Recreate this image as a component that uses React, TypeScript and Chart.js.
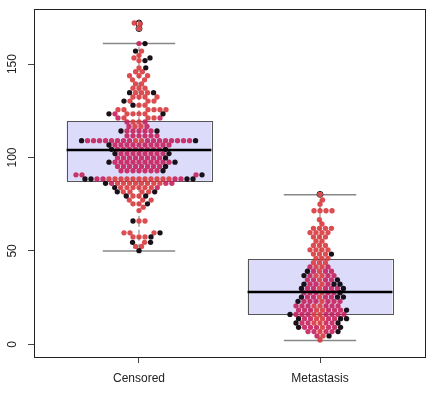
import { useEffect, useRef } from "react";
import { Chart, registerables } from "chart.js";
Chart.register(...registerables);

const categories = ["Censored", "Metastasis"];
const yTicks = [0, 50, 100, 150];
const boxQ1 = [87.5, 16];
const boxMedian = [104, 28];
const boxQ3 = [119.4, 45.5];
const whiskerLow = [50, 2];
const whiskerHigh = [161, 80];

// Censored group, split by point colour class
const censoredRed = [
  172, 171.5, 169,
  157, 154.7, 153.3, 151.9, 148,
  145.9, 145.9, 143.8, 143.8, 143.8, 141.6, 141.6, 139.4, 139.4, 137.1, 137.1, 137.1,
  134.7, 134.7, 134.7, 132.4, 132.4, 132.4, 132.4, 130.2, 130.2, 130.2, 128, 128,
  125.6, 125.6, 125.6, 125.6, 125.6, 125.6,
  123.4, 123.4, 123.4, 123.4, 121.2, 121.2, 121.2, 119, 119, 116.6, 116.6,
  109, 109,
  88.5, 88.5, 88.5, 88.5, 88.5, 88.5, 88.5, 88.5, 88.5, 88.5, 88.5,
  86.2, 86.2, 86.2, 86.2, 86.2, 86.2, 86.2, 86.2,
  83.9, 83.9, 83.9, 83.9, 83.9, 83.9,
  81.6, 81.6, 81.6, 81.6, 79.4, 79.4, 77.2, 77.2, 77.2, 75.2, 75.2, 73.4, 71.6,
  66, 66, 59.7, 59.7, 59.7, 57.5, 57.5, 57.5, 54.6, 52.4, 52.4,
];
const censoredPink = [
  161, 123.4, 121.2, 121.2, 119, 119, 116.6, 116.6,
  114.2, 114.2, 114.2, 114.2, 114.2, 111.6, 111.6, 111.6, 111.6, 111.6, 111.6,
  109, 109, 109, 109, 109, 109, 109, 109, 109, 109, 109, 109, 109, 109, 109, 109,
  106.7, 106.7, 106.7, 106.7, 106.7, 106.7, 106.7, 106.7, 106.7, 106.7,
  104.4, 104.4, 104.4, 104.4, 104.4, 104.4, 104.4, 104.4,
  102.1, 102.1, 102.1, 102.1, 102.1, 102.1, 102.1, 102.1,
  99.8, 99.8, 99.8, 99.8, 99.8, 99.8, 99.8, 99.8,
  97.5, 97.5, 97.5, 97.5, 97.5, 97.5, 97.5, 97.5, 97.5, 97.5,
  95.2, 95.2, 95.2, 95.2, 95.2, 95.2, 95.2, 95.2,
  92.9, 92.9, 92.9, 92.9, 92.9, 92.9, 92.9,
  90.7, 90.7, 90.7,
  88.5, 88.5, 88.5, 88.5, 86.2, 86.2, 86.2, 83.9,
];
const censoredBlack = [
  161, 157, 153.3, 151.9, 148, 134.7, 134.7, 130.2, 128, 123.4, 123.4,
  114.2, 114.2, 109, 109, 106.7, 104.4, 104.4, 102.1, 102.1, 99.8, 97.5, 97.5, 95.2, 92.9, 90.7,
  88.5, 88.5, 88.5, 88.5, 86.2, 83.9, 81.6, 81.6, 79.4, 79.4, 75.2,
  66, 59.7, 57.5, 54.6, 54.6, 50.1,
];

// Metastasis group, split by point colour class
const metastasisRed = [
  80.3, 77.3, 75, 71.5, 71.5, 71.5, 71.5, 66.7, 64.4,
  62.1, 62.1, 62.1, 62.1, 59.8, 59.8, 59.8, 59.8, 57.5, 57.5, 57.5, 55.2, 55.2,
  52.9, 52.9, 52.9, 50.6, 50.6, 50.6, 50.6, 48.3, 48.3, 48.3, 46, 46, 46, 43.7, 43.7, 43.7,
  41.4, 41.4, 39.1, 36.8, 36.8, 34.5, 32.2, 29.9, 27.6, 25.3, 23,
  20.6, 20.6, 18.3, 18.3, 16, 16, 13.7, 13.7, 11.4, 11.4, 9.1, 6.8, 4.5, 2.3,
];
const metastasisPink = [
  41.4, 41.4, 39.1, 39.1, 39.1, 36.8, 36.8, 36.8, 34.5, 34.5, 34.5, 34.5,
  32.2, 32.2, 32.2, 29.9, 29.9, 29.9, 29.9, 29.9, 27.6, 27.6, 27.6, 27.6, 27.6,
  25.3, 25.3, 25.3, 25.3, 23, 23, 23, 23, 23, 23, 20.6, 20.6, 20.6, 20.6, 20.6, 20.6,
  18.3, 18.3, 18.3, 18.3, 18.3, 18.3, 16, 16, 16, 16, 16, 16, 16,
  13.7, 13.7, 13.7, 13.7, 11.4, 11.4, 11.4, 11.4, 9.1, 9.1, 9.1, 9.1, 9.1,
  6.8, 6.8, 6.8, 6.8, 4.5,
];
const metastasisBlack = [
  48.3, 39.1, 36.8, 34.5, 32.2, 32.2, 32.2, 29.9, 29.9, 27.6, 25.3, 25.3, 25.3, 23,
  18.3, 16, 13.7, 13.7, 13.7, 11.4, 11.4, 9.1, 9.1, 6.8, 4.5,
];

const groups = [
  { red: censoredRed, pink: censoredPink, black: censoredBlack },
  { red: metastasisRed, pink: metastasisPink, black: metastasisBlack },
];

const X_MIN = 0.42, X_MAX = 2.58, Y_MIN = -6.8, Y_MAX = 179.5;
const PLOT_W = 391, PLOT_H = 348;
const GAP_X = 6.0; // horizontal spacing of neighbouring dots (px)
const GAP_Y = 4.75; // vertical reach of the collision ellipse (px)
const DOT_R = 2.65;

function swarm(values: number[], pxPerY: number): number[] {
  const idx = values.map((_, i) => i).sort((a, b) => values[a] - values[b] || a - b);
  const placed: { x: number; y: number }[] = [];
  const out = new Array(values.length).fill(0);
  const hits = (p: { x: number; y: number }, cx: number, cy: number) =>
    ((p.x - cx) / GAP_X) ** 2 + ((p.y - cy) / GAP_Y) ** 2 < 1 - 1e-6;
  for (const i of idx) {
    const y = values[i] * pxPerY;
    const near = placed.filter((p) => Math.abs(p.y - y) < GAP_Y);
    const cands = [0];
    for (const p of near) {
      const dx = GAP_X * Math.sqrt(1 - ((p.y - y) / GAP_Y) ** 2);
      cands.push(p.x + dx, p.x - dx);
    }
    const sorted = cands
      .map((c, k) => ({ c, k }))
      .sort((a, b) => Math.abs(a.c) - Math.abs(b.c) || a.k - b.k);
    let best = 0;
    for (const { c } of sorted) {
      if (!near.some((p) => hits(p, c, y))) {
        best = c;
        break;
      }
    }
    placed.push({ x: best, y });
    out[i] = best;
  }
  return out;
}

function buildPoints() {
  const pxPerX = PLOT_W / (X_MAX - X_MIN);
  const pxPerY = PLOT_H / (Y_MAX - Y_MIN);
  const red: { x: number; y: number }[] = [];
  const pink: { x: number; y: number }[] = [];
  const black: { x: number; y: number }[] = [];
  const outliers: { x: number; y: number }[] = [];
  groups.forEach((g, gi) => {
    const center = gi + 1;
    const all = [...g.red, ...g.pink, ...g.black];
    const offs = swarm(all, pxPerY);
    all.forEach((v, k) => {
      const pt = { x: center + offs[k] / pxPerX, y: v };
      if (k < g.red.length) red.push(pt);
      else if (k < g.red.length + g.pink.length) pink.push(pt);
      else black.push(pt);
      if (v > whiskerHigh[gi] || v < whiskerLow[gi]) outliers.push({ x: center, y: v });
    });
  });
  return { red, pink, black, outliers };
}

const FONT = '"Liberation Sans", Arial, Helvetica, sans-serif';

export default function App() {
  const ref = useRef<HTMLCanvasElement>(null);
  useEffect(() => {
    document.body.style.margin = "0";
    const { red, pink, black, outliers } = buildPoints();
    const boxPlugin = {
      id: "boxes",
      beforeDatasetsDraw(chart: any) {
        const { ctx } = chart;
        const x = chart.scales.x, y = chart.scales.y;
        categories.forEach((_, i) => {
          const c = i + 1;
          const xl = x.getPixelForValue(c - 0.4), xr = x.getPixelForValue(c + 0.4);
          const yt = y.getPixelForValue(boxQ3[i]), yb = y.getPixelForValue(boxQ1[i]);
          ctx.save();
          ctx.fillStyle = "#dcdcfa";
          ctx.fillRect(xl, yt, xr - xl, yb - yt);
          ctx.strokeStyle = "#555";
          ctx.lineWidth = 1;
          ctx.strokeRect(Math.round(xl) + 0.5, Math.round(yt) + 0.5, Math.round(xr - xl), Math.round(yb - yt));
          const xc = x.getPixelForValue(c);
          ctx.strokeStyle = "#777";
          ctx.setLineDash([4, 3]);
          ctx.beginPath();
          ctx.moveTo(xc, yt);
          ctx.lineTo(xc, y.getPixelForValue(whiskerHigh[i]));
          ctx.moveTo(xc, yb);
          ctx.lineTo(xc, y.getPixelForValue(whiskerLow[i]));
          ctx.stroke();
          ctx.setLineDash([]);
          ctx.lineWidth = 1.5;
          ctx.strokeStyle = "#888";
          const cl = x.getPixelForValue(c - 0.2), cr = x.getPixelForValue(c + 0.2);
          [whiskerHigh[i], whiskerLow[i]].forEach((w) => {
            const yy = y.getPixelForValue(w);
            ctx.beginPath();
            ctx.moveTo(cl, yy);
            ctx.lineTo(cr, yy);
            ctx.stroke();
          });
          ctx.restore();
        });
      },
      afterDatasetsDraw(chart: any) {
        const { ctx } = chart;
        const x = chart.scales.x, y = chart.scales.y;
        categories.forEach((_, i) => {
          const c = i + 1;
          const xl = x.getPixelForValue(c - 0.4), xr = x.getPixelForValue(c + 0.4);
          const ym = y.getPixelForValue(boxMedian[i]);
          ctx.save();
          ctx.strokeStyle = "#000";
          ctx.lineWidth = 2.5;
          ctx.beginPath();
          ctx.moveTo(xl, ym);
          ctx.lineTo(xr, ym);
          ctx.stroke();
          ctx.restore();
        });
      },
      afterDraw(chart: any) {
        const { ctx, chartArea } = chart;
        const y = chart.scales.y;
        ctx.save();
        ctx.strokeStyle = "#222";
        ctx.lineWidth = 1;
        ctx.strokeRect(
          Math.round(chartArea.left) + 0.5,
          Math.round(chartArea.top) + 0.5,
          Math.round(chartArea.right - chartArea.left),
          Math.round(chartArea.bottom - chartArea.top)
        );
        ctx.fillStyle = "#222";
        ctx.font = `12px ${FONT}`;
        ctx.textAlign = "center";
        ctx.textBaseline = "middle";
        yTicks.forEach((v) => {
          ctx.save();
          ctx.translate(13, y.getPixelForValue(v));
          ctx.rotate(-Math.PI / 2);
          ctx.fillText(String(v), 0, 0);
          ctx.restore();
        });
        ctx.restore();
      },
    };
    const chart = new Chart(ref.current!, {
      type: "scatter",
      data: {
        datasets: [
          { data: black, backgroundColor: "rgba(14,4,12,0.95)", pointRadius: DOT_R, borderWidth: 0 },
          { data: pink, backgroundColor: "rgba(198,32,92,0.9)", pointRadius: DOT_R, borderWidth: 0 },
          { data: red, backgroundColor: "rgba(216,58,62,0.9)", pointRadius: DOT_R, borderWidth: 0 },
          { data: outliers, backgroundColor: "#fff", borderColor: "#222", pointRadius: 3, borderWidth: 1 },
        ],
      },
      options: {
        animation: false,
        responsive: false,
        devicePixelRatio: 1,
        layout: { padding: { left: 0, top: 9, right: 7, bottom: 0 } },
        plugins: { legend: { display: false }, tooltip: { enabled: false } },
        scales: {
          x: {
            type: "linear",
            min: X_MIN,
            max: X_MAX,
            afterBuildTicks: (s: any) => {
              s.ticks = categories.map((_, i) => ({ value: i + 1 }));
            },
            ticks: {
              callback: (v: any) => categories[Math.round(Number(v)) - 1] ?? "",
              font: { family: FONT, size: 12 },
              color: "#222",
              padding: 8,
              maxRotation: 0,
              autoSkip: false,
            },
            grid: { display: true, drawOnChartArea: false, drawTicks: true, tickLength: 6, tickColor: "#444" },
            border: { display: false },
            afterFit: (s: any) => {
              s.height = 38;
            },
          },
          y: {
            type: "linear",
            min: Y_MIN,
            max: Y_MAX,
            afterBuildTicks: (s: any) => {
              s.ticks = yTicks.map((v) => ({ value: v }));
            },
            ticks: { display: false },
            grid: { display: true, drawOnChartArea: false, drawTicks: true, tickLength: 6, tickColor: "#444" },
            border: { display: false },
            afterFit: (s: any) => {
              s.width = 34;
            },
          },
        },
      },
      plugins: [boxPlugin],
    });
    return () => chart.destroy();
  }, []);
  return <canvas ref={ref} width={432} height={395} style={{ display: "block" }} />;
}
